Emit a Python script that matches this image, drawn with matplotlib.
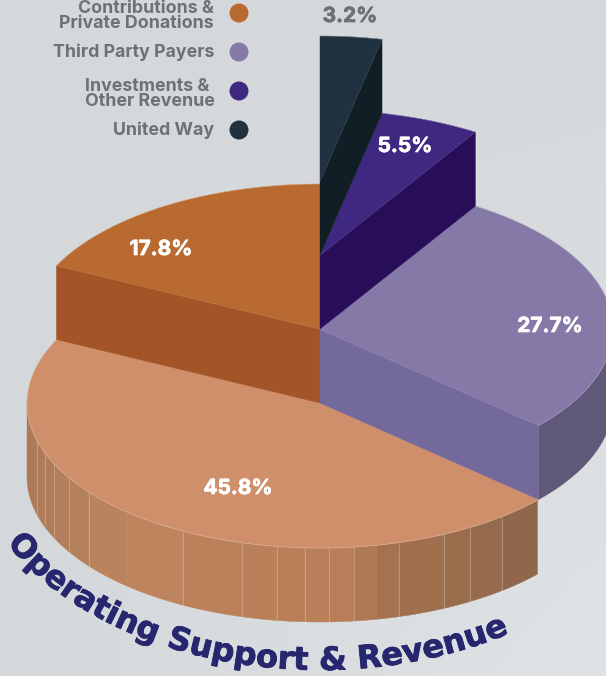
import numpy as np
import matplotlib
matplotlib.use('Agg')
from matplotlib import pyplot as plt
from matplotlib import patheffects
from matplotlib.colors import to_rgb
from matplotlib.patches import Circle, Polygon

# values, clockwise from 12 o'clock
slices = ['United Way', 'Investments', 'Third Party Payers', 'Private Donations', 'Contributions']
shares = [3.2, 5.5, 27.7, 45.8, 17.8]
share_labels = ['3.2%', '5.5%', '27.7%', '45.8%', '17.8%']

legend_labels = ['Contributions &\nPrivate Donations', 'Third Party Payers',
                 'Investments &\nOther Revenue', 'United Way']
legend_colors = ['#b96a31', '#8579a8', '#3f2880', '#20323f']
title = 'Operating Support & Revenue'

# stair-step pie: level of each slice, colours of top and side
levels = [3, 2, 1, 0, 1]
top_colors = ['#20323f', '#3f2880', '#8579a8', '#cf8f6a', '#b96a31']
side_colors = ['#111e26', '#280d59', '#736a9b', None, '#a45527']

cx, cy0 = 320, 403
rx, ry = 293, 145
step = 74
font = 'Inter'

plt.rcParams['font.family'] = [font, 'DejaVu Sans']
fig = plt.figure(figsize=(6.06, 6.76), dpi=100)
ax = fig.add_axes([0, 0, 1, 1])

# faint background gradient
c1 = np.array([213, 216, 219]) / 255
c2 = np.array([223, 227, 230]) / 255
yy, xx = np.mgrid[0:1:40j, 0:1:40j]
w = (yy * xx)[..., None]
ax.imshow(c1 + (c2 - c1) * w, extent=[0, 606, 676, 0], aspect='auto', interpolation='bilinear')


def rim(t, level):
    t = np.radians(t)
    return cx + rx * np.sin(t), cy0 - level * step - ry * np.cos(t)


def apex(level):
    return cx, cy0 - level * step


def top_face(a0, a1, level, color):
    tt = np.linspace(a0, a1, 200)
    x, y = rim(tt, level)
    pts = np.vstack([[apex(level)], np.column_stack([x, y])])
    ax.add_patch(Polygon(pts, closed=True, fc=color, ec=color, lw=0.3, zorder=3))
    ax.plot(x, y, color='white', alpha=0.25, lw=0.6, zorder=3)


def inner_face(a, level, color):
    pts = [apex(level), rim(a, level), rim(a, level - 1), apex(level - 1)]
    ax.add_patch(Polygon(pts, closed=True, fc=color, ec=color, lw=0.3, zorder=3))
    p, q = apex(level), rim(a, level)
    ax.plot([p[0], q[0]], [p[1], q[1]], color='white', alpha=0.22, lw=0.6, zorder=3)


def wall(a0, a1, level, color):
    tt = np.linspace(a0, a1, 40)
    x, y = rim(tt, level)
    x2, y2 = rim(tt[::-1], level - 1)
    pts = np.column_stack([np.r_[x, x2], np.r_[y, y2]])
    ax.add_patch(Polygon(pts, closed=True, fc=color, ec=color, lw=0.3, zorder=3))


# first three slices sit a little further round in the picture
turn = 0.7
ends = np.cumsum(shares) * 3.6
ends[:3] += turn
ends[-1] = 360
starts = np.r_[0, ends[:-1]]

# front wall of the big slice is built from facets with thin seams
seam_x = [537.5, 501.7, 470.4, 444.5, 398.5, 376.5, 353.7, 329, 304.6, 276.8, 241.6,
          182.5, 127.6, 88.5, 68.8, 54, 44.5, 36.7, 27]
no_line = [376.5, 127.6]
stop_x = [27, 130, 240, 350, 376, 440, 537]
stop_c = np.array([to_rgb(c) for c in ['#ad7a59', '#bd855f', '#bb8059', '#b87e59',
                                       '#a6734f', '#9c6d4d', '#8f664a']])
seam_t = [180 - np.degrees(np.arcsin((x - cx) / rx)) if x > cx else
          180 + np.degrees(np.arcsin((cx - x) / rx)) for x in seam_x]
for i in range(len(seam_x) - 1):
    mid = (seam_x[i] + seam_x[i + 1]) / 2
    col = [np.interp(mid, stop_x, stop_c[:, k]) for k in range(3)]
    wall(seam_t[i], seam_t[i + 1], 0, col)
    if 0 < i and seam_x[i] not in no_line:
        x, y = rim(seam_t[i], 0)
        ax.plot([x, x], [y, y + step], color='white', alpha=0.28, lw=0.6, zorder=3)

top_face(starts[3], ends[3], 0, top_colors[3])

# slices on upper levels, back to front
inner_face(starts[4], 1, side_colors[4])
top_face(starts[4], ends[4], 1, top_colors[4])

wall(90, ends[2], 1, '#5f5878')
inner_face(ends[2], 1, side_colors[2])
top_face(starts[2], ends[2], 1, top_colors[2])

inner_face(ends[1], 2, side_colors[1])
top_face(starts[1], ends[1], 2, top_colors[1])

inner_face(ends[0], 3, side_colors[0])
top_face(starts[0], ends[0], 3, top_colors[0])

# share labels
label_pos = [(350, 16), (405, 146), (550, 326), (238, 488), (161, 249)]
for i, s in enumerate(share_labels):
    col = '#6d7074' if i == 0 else 'white'
    ax.text(label_pos[i][0], label_pos[i][1], s, color=col, fontsize=15, fontweight='bold',
            ha='center', va='center', zorder=5,
            path_effects=[patheffects.withStroke(linewidth=0.5, foreground=col)])

# legend
dot_y = [13, 52, 91, 130]
for i in range(4):
    ax.add_patch(Circle((239, dot_y[i]), 9.5, fc=legend_colors[i], ec='none', zorder=5))
    if i == 2:
        ax.text(85, dot_y[i] + 3, legend_labels[i], color='#6d7074', fontsize=12.8, fontweight='bold',
                ha='left', va='center', linespacing=0.9, zorder=5)
    else:
        ax.text(214, dot_y[i] + (3 if i == 0 else 0), legend_labels[i], color='#6d7074', fontsize=12.8,
                fontweight='bold', ha='right', va='center', linespacing=0.9, multialignment='right', zorder=5)

# curved title, letter by letter along an ellipse
ax.set_xlim(0, 606)
ax.set_ylim(676, 0)
ax.axis('off')
renderer = fig.canvas.get_renderer()
title_size = 23


def text_w(s):
    if not s:
        return 0
    t = ax.text(0, 0, s.replace(' ', '\u00a0'), fontsize=title_size, fontweight='bold', family='DejaVu Sans')
    w_ = t.get_window_extent(renderer).width
    t.remove()
    return w_


a, b, c = 353, 236, 434
tt = np.radians(np.linspace(-80, 60, 3000))
px = cx + a * np.sin(tt)
py = c + b * np.cos(tt)
arc = np.r_[0, np.cumsum(np.hypot(np.diff(px), np.diff(py)))]
arc0 = arc[np.argmin(np.abs(px - 7))]
for i, ch in enumerate(title):
    if ch == ' ':
        continue
    s = arc0 + text_w(title[:i]) + text_w(ch) / 2
    x = np.interp(s, arc, px)
    y = np.interp(s, arc, py)
    dx = np.interp(s + 1, arc, px) - np.interp(s - 1, arc, px)
    dy = np.interp(s + 1, arc, py) - np.interp(s - 1, arc, py)
    ax.text(x, y, ch, color='#27276f', fontsize=title_size, fontweight='bold', family='DejaVu Sans',
            ha='center', va='baseline', rotation=-np.degrees(np.arctan2(dy, dx)),
            rotation_mode='anchor', zorder=6,
            path_effects=[patheffects.withStroke(linewidth=0.6, foreground='#27276f')])

fig.savefig('out.png', dpi=100)
